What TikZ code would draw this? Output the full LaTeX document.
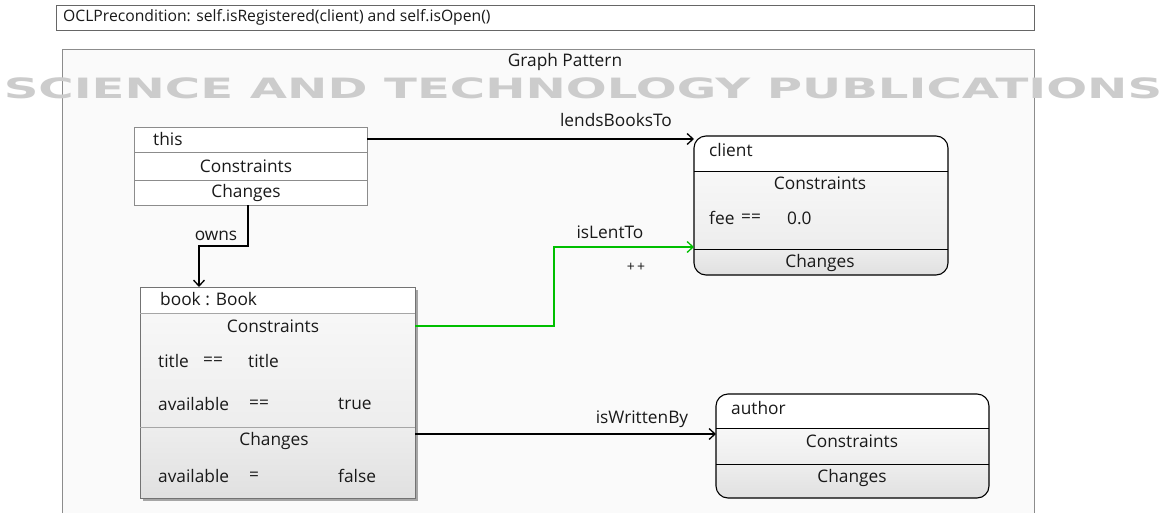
\documentclass[tikz,border=0pt]{standalone}
\usepackage{fontspec}
\setmainfont{Open Sans}
\newfontfamily\wmfont{DejaVu Sans}
\usetikzlibrary{arrows.meta,shadows}
\begin{document}
\begin{tikzpicture}[x=1pt,y=-1pt,
  every node/.style={font=\fontsize{17.3}{19}\selectfont, inner sep=0pt, text=black!90},
  lbl/.style={anchor=west},
  conn/.style={draw=black, line width=1.3pt, -{Straight Barb[length=6pt,width=11pt]}},
  consfill/.style={top color=white!97!black, bottom color=white!93!black},
  chgfill/.style={top color=white!93!black, bottom color=white!88!black},
]
\useasboundingbox (0,0) rectangle (1171,512);
\fill[white] (0,0) rectangle (1171,512);
% OCL precondition box
\node[draw=black!60, line width=0.8pt, minimum width=978pt, minimum height=25pt, anchor=north west] (ocl) at (56,5) {};
\node[lbl, font=\fontsize{15.7}{18}\selectfont] (ocltext) at (63,17) {OCLPrecondition: self.isRegistered(client) and self.isOpen()};
% graph pattern frame
\draw[draw=black!45, line width=0.8pt, fill=black!2] (62,530) -- (62,49) -- (1034,49) -- (1034,530);
\node (gp) at (565,62) {Graph Pattern};
% watermark text
\node[font=\wmfont\bfseries\fontsize{28}{30}\selectfont, text=black!20, xscale=1.72] (wm) at (583,88) {SCIENCE AND TECHNOLOGY PUBLICATIONS};

% this box
\draw[black!45, line width=0.8pt, fill=white] (134,127) rectangle (367,205);
\draw[black!45, line width=0.8pt] (134,152) -- (367,152) (134,180) -- (367,180);
\node[lbl] (thisname) at (153,139) {this};
\node (thiscons) at (246,166) {Constraints};
\node (thischg) at (246,193) {Changes};
\coordinate (thisR) at (367,139);
\coordinate (thisB) at (248,205);

% book box
\fill[black!35] (143,290) rectangle (418,501);
\shade[consfill] (140,313) rectangle (415,427);
\shade[chgfill] (140,427) rectangle (415,498);
\fill[white] (140,287) rectangle (415,313);
\draw[black!55, line width=0.8pt] (140,287) rectangle (415,498);
\draw[black!35, line width=0.8pt] (140,313) -- (415,313) (140,427) -- (415,427);
\node[lbl] (bookname) at (160,299) {book : Book};
\node (bookcons) at (273,326) {Constraints};
\node[lbl] (t1) at (158,361) {title};
\node[lbl] (t2) at (203,361) {==};
\node[lbl] (t3) at (248,361) {title};
\node[lbl] (a1) at (158,404) {available};
\node[lbl] (a2) at (249,404) {==};
\node[lbl] (a3) at (338,404) {true};
\node (bookchg) at (274,441) {Changes};
\node[lbl] (c1) at (158,476) {available};
\node[lbl] (c2) at (249,476) {=};
\node[lbl] (c3) at (338,476) {false};
\coordinate (bookT) at (199,287);
\coordinate (bookR1) at (415,326);
\coordinate (bookR2) at (415,434);

% client box
\begin{scope}
\clip[rounded corners=12pt] (694,136) rectangle (948,275);
\fill[white] (694,136) rectangle (948,171);
\shade[consfill] (694,171) rectangle (948,249);
\shade[chgfill] (694,249) rectangle (948,275);
\end{scope}
\draw[black, line width=1.1pt, rounded corners=12pt] (694,136) rectangle (948,275);
\draw[black, line width=1pt] (694,171) -- (948,171) (694,249) -- (948,249);
\node[lbl] (clientname) at (709,150) {client};
\node (clientcons) at (820,183) {Constraints};
\node[lbl] (f1) at (709,218) {fee};
\node[lbl] (f2) at (741,218) {==};
\node[lbl] (f3) at (787,218) {0.0};
\node (clientchg) at (820,263) {Changes};
\coordinate (clientL1) at (694,139);
\coordinate (clientL2) at (694,247);

% author box
\begin{scope}
\clip[rounded corners=12pt] (716,394) rectangle (989,498);
\fill[white] (716,394) rectangle (989,428);
\shade[consfill] (716,428) rectangle (989,464);
\shade[chgfill] (716,464) rectangle (989,498);
\end{scope}
\draw[black, line width=1.1pt, rounded corners=12pt] (716,394) rectangle (989,498);
\draw[black, line width=1pt] (716,428) -- (989,428) (716,464) -- (989,464);
\node[lbl] (authorname) at (731,408) {author};
\node (authorcons) at (852,441) {Constraints};
\node (authorchg) at (852,478) {Changes};
\coordinate (authorL) at (716,434);

% connectors
\draw[conn] (thisR) -- (clientL1);
\node (lend) at (616,120) {lendsBooksTo};
\draw[conn] (thisB) -- (248,246) -- (199,246) -- (bookT);
\node (owns) at (216,236) {owns};
\draw[conn, draw=green!75!black, color=green!75!black] (bookR1) -- (554,326) -- (554,247) -- (clientL2);
\node (islent) at (610,232) {isLentTo};
\node[font=\fontsize{14}{16}\selectfont] (pp) at (636,267) {+\,+};
\draw[conn] (bookR2) -- (authorL);
\node (iswr) at (642,419) {isWrittenBy};
\end{tikzpicture}
\end{document}
